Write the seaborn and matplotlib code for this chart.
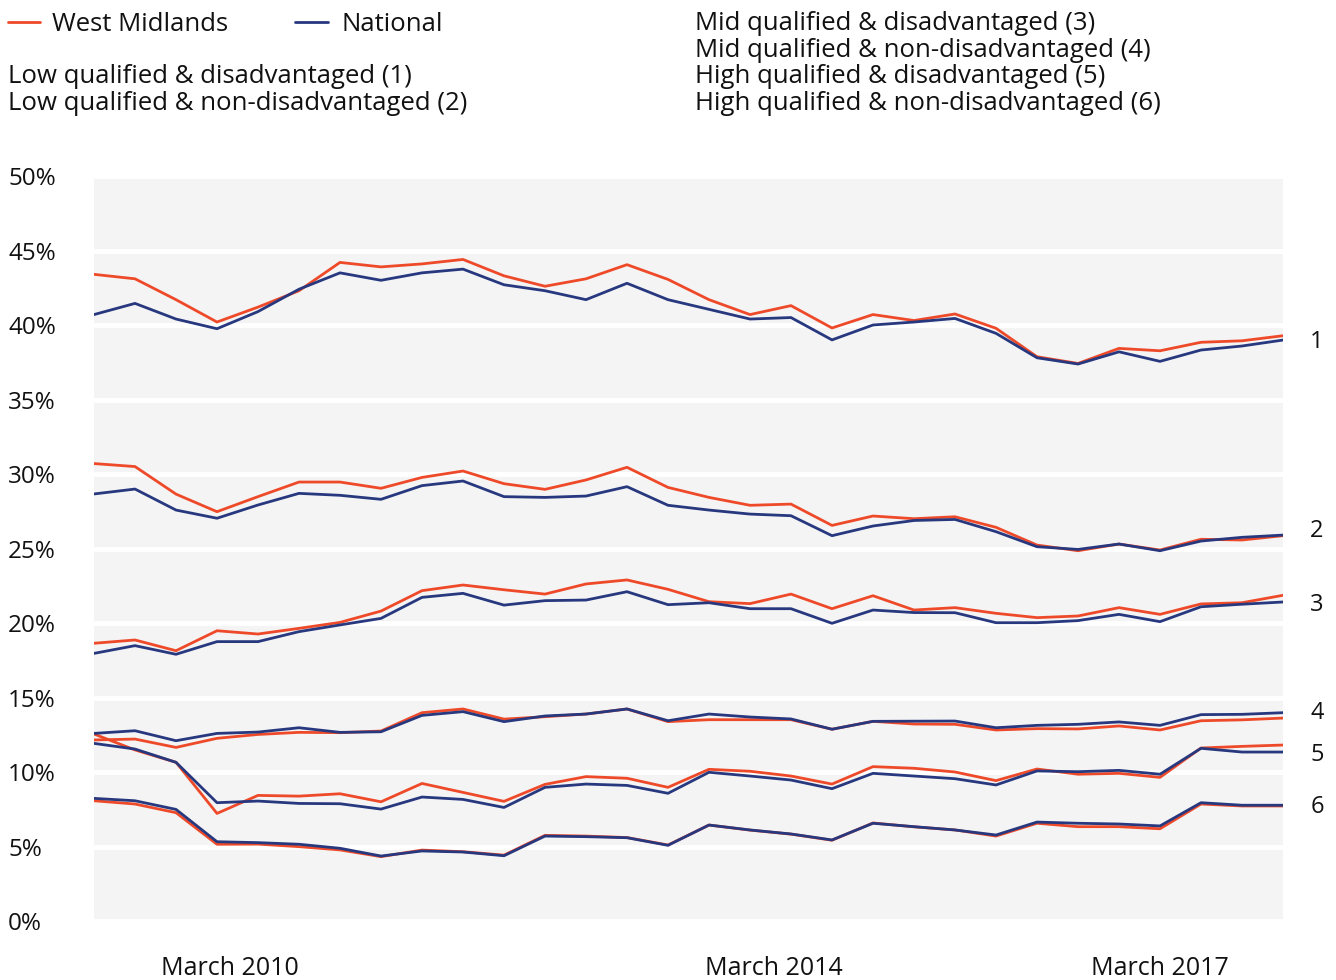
import pandas as pd
import matplotlib
matplotlib.use("Agg")
import matplotlib.pyplot as plt
from matplotlib import transforms
from matplotlib.lines import Line2D
import seaborn as sns

# quarterly points, left to right
quarters = list(range(30))

wm_1 = [43.4, 43.1, 41.7, 40.2, 41.2, 42.3, 44.2, 43.9, 44.1, 44.4,
        43.3, 42.6, 43.1, 44.05, 43.06, 41.7, 40.7, 41.3, 39.8, 40.7,
        40.3, 40.74, 39.78, 37.87, 37.42, 38.43, 38.27, 38.84, 38.94, 39.28]
nat_1 = [40.7, 41.45, 40.4, 39.75, 40.9, 42.4, 43.5, 43.0, 43.5, 43.75,
         42.7, 42.3, 41.7, 42.8, 41.7, 41.05, 40.4, 40.5, 39.0, 40.0,
         40.2, 40.44, 39.44, 37.8, 37.38, 38.2, 37.56, 38.32, 38.59, 38.99]
wm_2 = [30.7, 30.5, 28.65, 27.47, 28.48, 29.46, 29.46, 29.04, 29.77, 30.2,
        29.35, 28.97, 29.6, 30.45, 29.1, 28.43, 27.9, 27.98, 26.55, 27.18,
        27.0, 27.13, 26.42, 25.23, 24.85, 25.3, 24.9, 25.62, 25.57, 25.86]
nat_2 = [28.66, 28.99, 27.58, 27.03, 27.92, 28.7, 28.57, 28.3, 29.22, 29.53,
         28.48, 28.43, 28.52, 29.15, 27.9, 27.58, 27.31, 27.2, 25.86, 26.51,
         26.88, 26.95, 26.13, 25.12, 24.94, 25.3, 24.85, 25.5, 25.75, 25.9]
wm_3 = [18.64, 18.86, 18.14, 19.48, 19.26, 19.64, 20.04, 20.8, 22.17, 22.55,
        22.23, 21.94, 22.62, 22.89, 22.26, 21.43, 21.3, 21.94, 20.96, 21.83,
        20.87, 21.03, 20.65, 20.36, 20.47, 21.03, 20.58, 21.28, 21.36, 21.86]
nat_3 = [17.96, 18.48, 17.9, 18.75, 18.75, 19.42, 19.87, 20.31, 21.72, 21.99,
         21.2, 21.5, 21.54, 22.1, 21.23, 21.36, 20.96, 20.96, 19.98, 20.87,
         20.7, 20.69, 20.02, 20.02, 20.16, 20.58, 20.09, 21.09, 21.26, 21.41]
wm_4 = [12.15, 12.21, 11.65, 12.26, 12.52, 12.66, 12.64, 12.75, 13.98, 14.23,
        13.55, 13.71, 13.89, 14.23, 13.38, 13.51, 13.51, 13.51, 12.87, 13.4,
        13.22, 13.2, 12.82, 12.91, 12.89, 13.09, 12.82, 13.44, 13.5, 13.62]
nat_4 = [12.59, 12.77, 12.1, 12.59, 12.68, 12.97, 12.66, 12.7, 13.8, 14.05,
         13.38, 13.76, 13.89, 14.23, 13.44, 13.89, 13.69, 13.56, 12.87, 13.4,
         13.41, 13.42, 12.97, 13.13, 13.2, 13.36, 13.13, 13.85, 13.87, 13.98]
wm_5 = [12.55, 11.48, 10.65, 7.22, 8.43, 8.38, 8.54, 8.0, 9.23, 8.63,
        8.03, 9.17, 9.69, 9.58, 8.97, 10.18, 10.05, 9.73, 9.19, 10.36,
        10.25, 10.0, 9.42, 10.2, 9.85, 9.91, 9.64, 11.61, 11.72, 11.81]
nat_5 = [11.92, 11.54, 10.65, 7.94, 8.05, 7.89, 7.87, 7.51, 8.32, 8.16,
         7.62, 8.97, 9.19, 9.1, 8.57, 9.98, 9.73, 9.46, 8.88, 9.91,
         9.73, 9.55, 9.13, 10.07, 10.02, 10.11, 9.85, 11.59, 11.34, 11.34]
wm_6 = [8.07, 7.85, 7.27, 5.15, 5.16, 4.99, 4.77, 4.32, 4.76, 4.65,
        4.42, 5.75, 5.7, 5.6, 5.1, 6.44, 6.1, 5.83, 5.42, 6.58,
        6.32, 6.11, 5.7, 6.56, 6.33, 6.33, 6.19, 7.85, 7.72, 7.72]
nat_6 = [8.23, 8.07, 7.49, 5.32, 5.26, 5.15, 4.88, 4.36, 4.7, 4.63,
         4.38, 5.7, 5.66, 5.59, 5.08, 6.44, 6.11, 5.84, 5.44, 6.56,
         6.33, 6.11, 5.77, 6.64, 6.56, 6.51, 6.38, 7.94, 7.77, 7.77]

group_ids = ["1", "2", "3", "4", "5", "6"]
# where the group number sits on the right
group_label_y = [38.86, 26.2, 21.2, 13.96, 11.14, 7.65]

legend_left = ["Low qualified & disadvantaged (1)",
               "Low qualified & non-disadvantaged (2)"]
legend_right = ["Mid qualified & disadvantaged (3)",
                "Mid qualified & non-disadvantaged (4)",
                "High qualified & disadvantaged (5)",
                "High qualified & non-disadvantaged (6)"]

year_ticks = [2.95, 6.37, 9.76, 13.17, 16.56, 19.98, 23.37, 26.78]
year_label_pos = [3.32, 16.59, 26.0]
year_labels = ["March 2010", "March 2014", "March 2017"]

RED = "#ee4a2a"
BLUE = "#27387f"
INK = "#111111"


def build_frame():
    wm = [wm_1, wm_2, wm_3, wm_4, wm_5, wm_6]
    nat = [nat_1, nat_2, nat_3, nat_4, nat_5, nat_6]
    rows = []
    for gid, w, n in zip(group_ids, wm, nat):
        for q, a, b in zip(quarters, w, n):
            rows.append({"group": gid, "quarter": q, "region": "West Midlands", "value": a})
            rows.append({"group": gid, "quarter": q, "region": "National", "value": b})
    return pd.DataFrame(rows)


def main():
    sns.set_style("white")
    plt.rcParams["font.family"] = ["Open Sans", "DejaVu Sans"]

    df = build_frame()

    W, H = 1336, 980
    fig = plt.figure(figsize=(W / 100, H / 100), dpi=100)
    ax = fig.add_axes([94 / W, 1 - 921 / H, (1283 - 94) / W, (921 - 176) / H])
    ax.set_facecolor("#f4f4f4")

    for region, color in [("West Midlands", RED), ("National", BLUE)]:
        sns.lineplot(data=df[df["region"] == region], x="quarter", y="value",
                     units="group", estimator=None, color=color, lw=2.0,
                     ax=ax, legend=False)

    ax.set_xlim(0, 29)
    ax.set_ylim(0, 50)
    ax.set_xlabel("")
    ax.set_ylabel("")
    sns.despine(ax=ax, left=True, bottom=True)

    # y axis: white gridlines, labels flush left
    ax.set_yticks(range(0, 51, 5))
    ax.set_yticklabels([f"{v}%" for v in range(0, 51, 5)], fontsize=17.5, color=INK)
    ax.yaxis.grid(True, color="white", lw=3.5)
    ax.xaxis.grid(False)
    ax.set_axisbelow(True)
    ax.tick_params(axis="y", length=0, pad=86 * 0.72)
    for t in ax.get_yticklabels():
        t.set_horizontalalignment("left")

    # x axis ticks + labels
    ax.set_xticks(year_ticks)
    ax.set_xticklabels([])
    ax.tick_params(axis="x", length=11, width=1.2, color="#333333", direction="out")
    trans = transforms.blended_transform_factory(ax.transData, fig.transFigure)
    for pos, lab in zip(year_label_pos, year_labels):
        ax.text(pos, 1 - 975 / H, lab, transform=trans, ha="center", va="baseline",
                fontsize=18, color=INK)

    # group numbers on the right
    for gid, yv in zip(group_ids, group_label_y):
        ax.text(29.83, yv, gid, ha="center", va="center", fontsize=17,
                color=INK, clip_on=False)

    # legend block at the top
    for x0, x1, tx, lab, color in [(8, 40, 52, "West Midlands", RED),
                                   (295, 328, 341, "National", BLUE)]:
        fig.add_artist(Line2D([x0 / W, x1 / W], [1 - 22 / H] * 2, color=color, lw=2))
        fig.text(tx / W, 1 - 31 / H, lab, fontsize=18.5, va="baseline", color=INK)

    for i, lab in enumerate(legend_left):
        fig.text(8 / W, 1 - (83 + 27 * i) / H, lab, fontsize=18.5, va="baseline", color=INK)
    for i, lab in enumerate(legend_right):
        fig.text(695 / W, 1 - (30 + 26.7 * i) / H, lab, fontsize=18.5, va="baseline", color=INK)

    fig.savefig("out.png", dpi=100)


if __name__ == "__main__":
    main()
